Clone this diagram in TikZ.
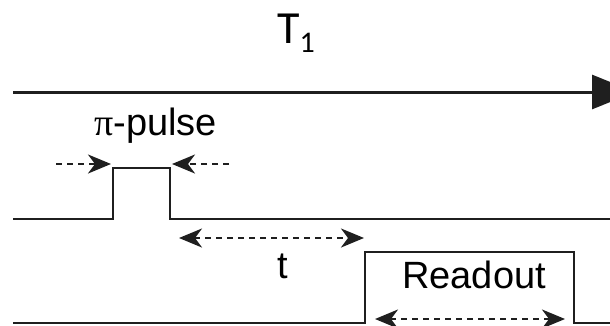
\documentclass[tikz,border=0pt]{standalone}
\usepackage{fontspec}
\setmainfont{Liberation Sans}
\newfontfamily\calib{Carlito}
\newfontfamily\greek{Liberation Serif}
\usetikzlibrary{arrows.meta}
\begin{document}
\begin{tikzpicture}[x=1pt,y=-1pt,
  signal/.style={line width=2.8pt,line join=miter,color=black!88},
  axis/.style={line width=3pt,color=black!88,-{Triangle[length=43pt,width=34pt]}},
  span/.style={line width=2.6pt,color=black!88,dash pattern=on 6pt off 5pt},
  tipS/.tip={Stealth[length=23pt,width=19pt,inset=7pt]},
  lbl/.style={inner sep=0pt,anchor=base west,font=\fontsize{38}{38}\selectfont}]
\useasboundingbox (0,0) rectangle (610,325);
% time axis
\coordinate (axL) at (13,92);
\coordinate (axR) at (635,92);
\draw[axis] (axL) -- (axR);
\node[inner sep=0pt,anchor=base west] (T1) at (277,43)
  {\calib\fontsize{46}{46}\selectfont T\raisebox{-9pt}{\fontsize{30}{30}\selectfont 1}};
% pi-pulse channel
\coordinate (p0) at (13,219);
\coordinate (p1) at (113,219);
\coordinate (p2) at (113,168);
\coordinate (p3) at (170,168);
\coordinate (p4) at (170,219);
\coordinate (p5) at (612,219);
\draw[signal] (p0) -- (p1) -- (p2) -- (p3) -- (p4) -- (p5);
\node[lbl] (pil) at (94,135) {{\greek π}-pulse};
\coordinate (dl0) at (56,164);
\coordinate (dl1) at (111,164);
\coordinate (dr0) at (229,164);
\coordinate (dr1) at (172,164);
\draw[span,-tipS] (dl0) -- (dl1);
\draw[span,-tipS] (dr0) -- (dr1);
% delay between pulse and readout
\coordinate (t0) at (179,238);
\coordinate (t1) at (364,238);
\draw[span,tipS-tipS] (t0) -- (t1);
\node[lbl] (tl) at (277,278) {t};
% readout channel
\coordinate (r0) at (13,323);
\coordinate (r1) at (365,323);
\coordinate (r2) at (365,252);
\coordinate (r3) at (574,252);
\coordinate (r4) at (574,323);
\coordinate (r5) at (612,323);
\draw[signal] (r0) -- (r1) -- (r2) -- (r3) -- (r4) -- (r5);
\node[lbl] (rl) at (402,288) {Readout};
\coordinate (ra0) at (375,319);
\coordinate (ra1) at (565,319);
\draw[span,tipS-tipS] (ra0) -- (ra1);
\end{tikzpicture}
\end{document}
